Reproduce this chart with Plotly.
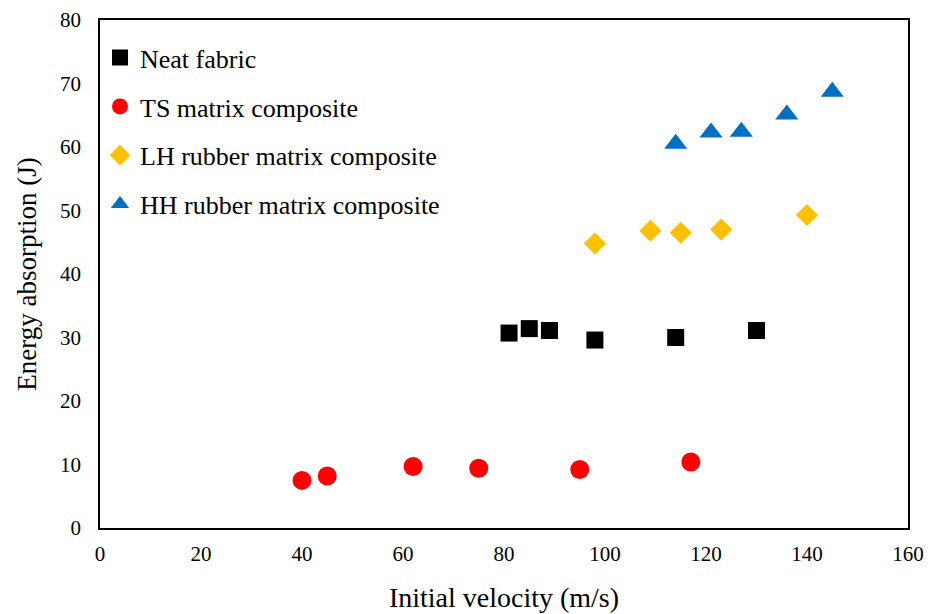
import plotly.graph_objects as go

neat_x = [81, 85, 89, 98, 114, 130]
neat_y = [30.7, 31.4, 31.1, 29.6, 30.0, 31.1]

ts_x = [40, 45, 62, 75, 95, 117]
ts_y = [7.5, 8.2, 9.7, 9.4, 9.2, 10.4]

lh_x = [98, 109, 115, 123, 140]
lh_y = [44.8, 46.8, 46.5, 47.0, 49.3]

hh_x = [114, 121, 127, 136, 145]
hh_y = [60.5, 62.3, 62.4, 65.1, 68.7]

x_ticks = [0, 20, 40, 60, 80, 100, 120, 140, 160]
y_ticks = [0, 10, 20, 30, 40, 50, 60, 70, 80]

FONT = "Liberation Serif"

fig = go.Figure()
series = [
    ("Neat fabric", neat_x, neat_y, "square", "#000000", 17),
    ("TS matrix composite", ts_x, ts_y, "circle", "#FF0000", 19),
    ("LH rubber matrix composite", lh_x, lh_y, "diamond", "#FFC000", 17),
    ("HH rubber matrix composite", hh_x, hh_y, "triangle-up", "#0070C0", 20),
]
for name, xs, ys, sym, col, sz in series:
    fig.add_trace(go.Scatter(
        x=xs, y=ys, mode="markers", name=name, legendgroup=name,
        marker=dict(symbol=sym, color=col, size=sz, line=dict(width=0)),
    ))

fig.update_layout(
    width=930, height=614,
    margin=dict(l=100, r=22, t=20, b=86),
    paper_bgcolor="white", plot_bgcolor="white",
    font=dict(family=FONT, size=21, color="black"),
    showlegend=True,
    legend=dict(
        x=0.0, y=0.972, xanchor="left", yanchor="top",
        font=dict(family=FONT, size=26, color="black"),
        bgcolor="rgba(0,0,0,0)", tracegroupgap=12,
        itemwidth=30,
    ),
    xaxis=dict(
        range=[0, 160], tickvals=x_ticks, ticks="", showgrid=False, automargin=False,
        zeroline=False, showline=True, linecolor="black", linewidth=1.5, mirror=True,
        title=dict(text="Initial velocity (m/s)", font=dict(family=FONT, size=28), standoff=22),
        tickfont=dict(family=FONT, size=21), ticklabelstandoff=6,
    ),
    yaxis=dict(
        range=[0, 80], tickvals=y_ticks, ticks="", showgrid=False, automargin=False,
        zeroline=False, showline=True, linecolor="black", linewidth=1.5, mirror=True,
        title=dict(text="Energy absorption (J)", font=dict(family=FONT, size=27), standoff=16),
        tickfont=dict(family=FONT, size=21), ticklabelstandoff=13,
    ),
)

fig.write_html("out.html", config={"displayModeBar": False},
               post_script="document.body.style.margin='0px';")
